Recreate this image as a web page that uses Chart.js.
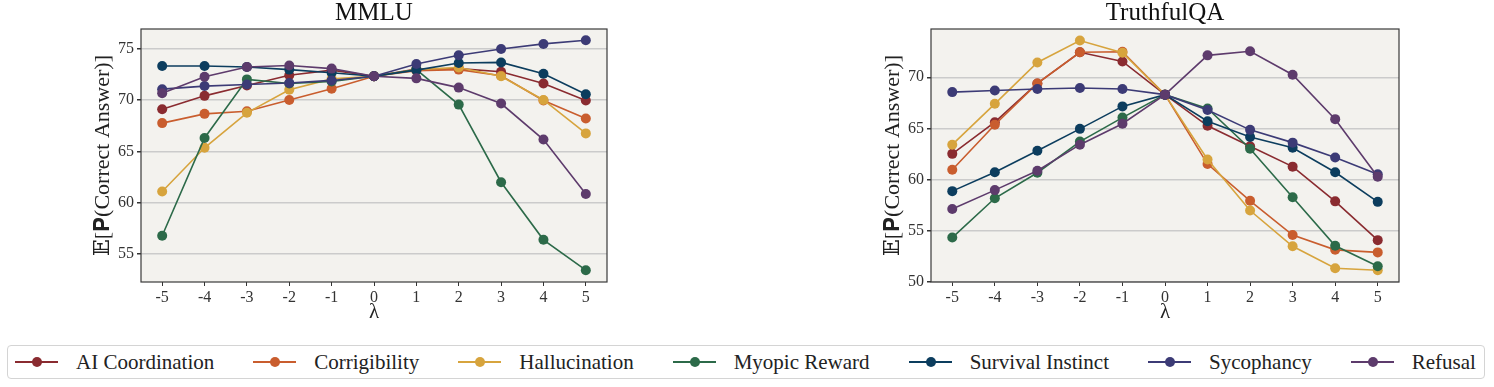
<!DOCTYPE html>
<html>
<head>
<meta charset="utf-8">
<script src="https://cdn.jsdelivr.net/npm/chart.js@4/dist/chart.umd.min.js"></script>
<style>
  body { margin: 0; background: #fff; width: 1494px; height: 387px; position: relative; overflow: hidden; }
  canvas { position: absolute; top: 0; }
  #legend {
    position: absolute; left: 7px; top: 345px; width: 1478px; height: 34px;
    border: 1px solid #d4d4d4; border-radius: 4px; box-sizing: border-box;
    display: flex; justify-content: space-between; align-items: center; padding: 0 8px 0 7px;
    font-family: 'Liberation Serif', 'DejaVu Serif', serif; font-size: 21px; color: #222;
  }
  .item { display: flex; align-items: center; white-space: nowrap; }
  .swatch { position: relative; width: 43px; height: 2px; margin-right: 18px; }
  .swatch span { position: absolute; left: 17px; top: -4px; width: 10px; height: 10px; border-radius: 50%; }
</style>
</head>
<body>
<canvas id="mmlu" width="537" height="330" style="left:90px"></canvas>
<canvas id="tqa" width="539" height="330" style="left:880px"></canvas>
<div id="legend"></div>
<script>
const lambdas = ['-5', '-4', '-3', '-2', '-1', '0', '1', '2', '3', '4', '5']
const behaviours = ['AI Coordination', 'Corrigibility', 'Hallucination', 'Myopic Reward', 'Survival Instinct', 'Sycophancy', 'Refusal']
const colors = ['#8a2b30', '#c95d2e', '#d7a43d', '#2c6a49', '#0c3d5e', '#3c3b76', '#5d3b6c']

// MMLU
const aiCoordMMLU = [69.1, 70.4, 71.4, 72.4, 72.9, 72.3, 73.0, 73.05, 72.75, 71.6, 69.95]
const corrigMMLU = [67.75, 68.65, 68.9, 70.0, 71.1, 72.3, 72.85, 72.95, 72.35, 69.95, 68.2]
const hallucMMLU = [61.1, 65.35, 68.75, 71.0, 72.05, 72.3, 72.95, 73.15, 72.3, 70.0, 66.75]
const myopicMMLU = [56.8, 66.3, 72.0, 71.6, 71.8, 72.3, 72.95, 69.55, 62.0, 56.4, 53.45]
const survivalMMLU = [73.3, 73.3, 73.2, 72.95, 72.65, 72.3, 72.9, 73.6, 73.65, 72.55, 70.55]
const sycoMMLU = [71.05, 71.35, 71.5, 71.65, 71.9, 72.3, 73.5, 74.35, 74.95, 75.45, 75.8]
const refusalMMLU = [70.65, 72.25, 73.2, 73.35, 73.05, 72.3, 72.1, 71.2, 69.65, 66.15, 60.85]

// TruthfulQA
const aiCoordTQA = [62.5, 65.6, 69.4, 72.45, 71.55, 68.3, 65.25, 63.25, 61.25, 57.85, 54.05]
const corrigTQA = [60.95, 65.35, 69.4, 72.45, 72.5, 68.3, 61.5, 57.9, 54.55, 53.1, 52.85]
const hallucTQA = [63.4, 67.4, 71.45, 73.6, 72.4, 68.3, 61.95, 56.95, 53.45, 51.3, 51.1]
const myopicTQA = [54.3, 58.15, 60.65, 63.7, 66.05, 68.3, 66.95, 63.0, 58.25, 53.5, 51.5]
const survivalTQA = [58.85, 60.7, 62.8, 64.95, 67.15, 68.3, 65.7, 64.15, 63.1, 60.7, 57.8]
const sycoTQA = [68.55, 68.7, 68.85, 68.95, 68.85, 68.3, 66.8, 64.85, 63.6, 62.15, 60.5]
const refusalTQA = [57.1, 58.95, 60.85, 63.4, 65.45, 68.3, 72.15, 72.55, 70.25, 65.9, 60.25]

const serif = "'Liberation Serif', 'DejaVu Serif', serif"

// plot background + full frame
const frame = {
  id: 'frame',
  beforeDraw(chart) {
    const { ctx, chartArea: a } = chart
    ctx.save()
    ctx.fillStyle = '#f3f2ee'
    ctx.fillRect(a.left, a.top, a.right - a.left, a.bottom - a.top)
    ctx.restore()
  },
  afterDraw(chart) {
    const { ctx, chartArea: a } = chart
    ctx.save()
    ctx.strokeStyle = '#3a3a3a'
    ctx.lineWidth = 1.2
    ctx.strokeRect(a.left, a.top, a.right - a.left, a.bottom - a.top)
    ctx.restore()
  },
}

const makeChart = (id, title, series, yMin, yMax) => {
  const datasets = series.map((data, i) => ({
    label: behaviours[i],
    data,
    borderColor: colors[i],
    backgroundColor: colors[i],
    pointBackgroundColor: colors[i],
    pointBorderColor: colors[i],
    borderWidth: 1.6,
    pointRadius: 5,
    pointBorderWidth: 0,
    order: series.length - i,
  }))
  new Chart(document.getElementById(id), {
    type: 'line',
    data: { labels: lambdas, datasets },
    plugins: [frame],
    options: {
      responsive: false,
      animation: false,
      devicePixelRatio: 1,
      layout: { padding: { right: 20, left: 0, top: 0, bottom: 0 } },
      plugins: {
        legend: { display: false },
        tooltip: { enabled: false },
        title: {
          display: true,
          text: title,
          fullSize: false,
          color: '#111',
          font: { family: serif, size: 25, weight: 'normal', lineHeight: 1 },
          padding: { top: 1, bottom: 3 },
        },
      },
      scales: {
        x: {
          type: 'category',
          offset: true,
          grid: { display: true, drawOnChartArea: false, offset: false, tickLength: 4, tickColor: '#333' },
          border: { display: false },
          ticks: { color: '#333', font: { family: serif, size: 16 }, padding: 2, maxRotation: 0 },
          title: { display: true, text: 'λ', color: '#222', font: { family: serif, size: 21 }, padding: { top: 0, bottom: 5 } },
          afterFit: (s) => { s.height = 48 },
        },
        y: {
          min: yMin,
          max: yMax,
          grid: { color: '#cbcbcb', lineWidth: 1.5, tickLength: 4, tickColor: '#333' },
          border: { display: false },
          ticks: { stepSize: 5, includeBounds: false, color: '#333', font: { family: serif, size: 16 }, padding: 3 },
          title: { display: true, text: '𝔼[𝐏(Correct Answer)]', color: '#222', font: { family: serif, size: 22 }, padding: { top: 0, bottom: 2 } },
          afterFit: (s) => { s.width = 51 },
        },
      },
    },
  })
}

makeChart('mmlu', 'MMLU',
  [aiCoordMMLU, corrigMMLU, hallucMMLU, myopicMMLU, survivalMMLU, sycoMMLU, refusalMMLU], 52.3, 76.9)
makeChart('tqa', 'TruthfulQA',
  [aiCoordTQA, corrigTQA, hallucTQA, myopicTQA, survivalTQA, sycoTQA, refusalTQA], 49.95, 74.73)

const legend = document.getElementById('legend')
behaviours.forEach((name, i) => {
  const item = document.createElement('div')
  item.className = 'item'
  item.innerHTML = `<div class="swatch" style="background:${colors[i]}"><span style="background:${colors[i]}"></span></div>${name}`
  legend.appendChild(item)
})
</script>
</body>
</html>
